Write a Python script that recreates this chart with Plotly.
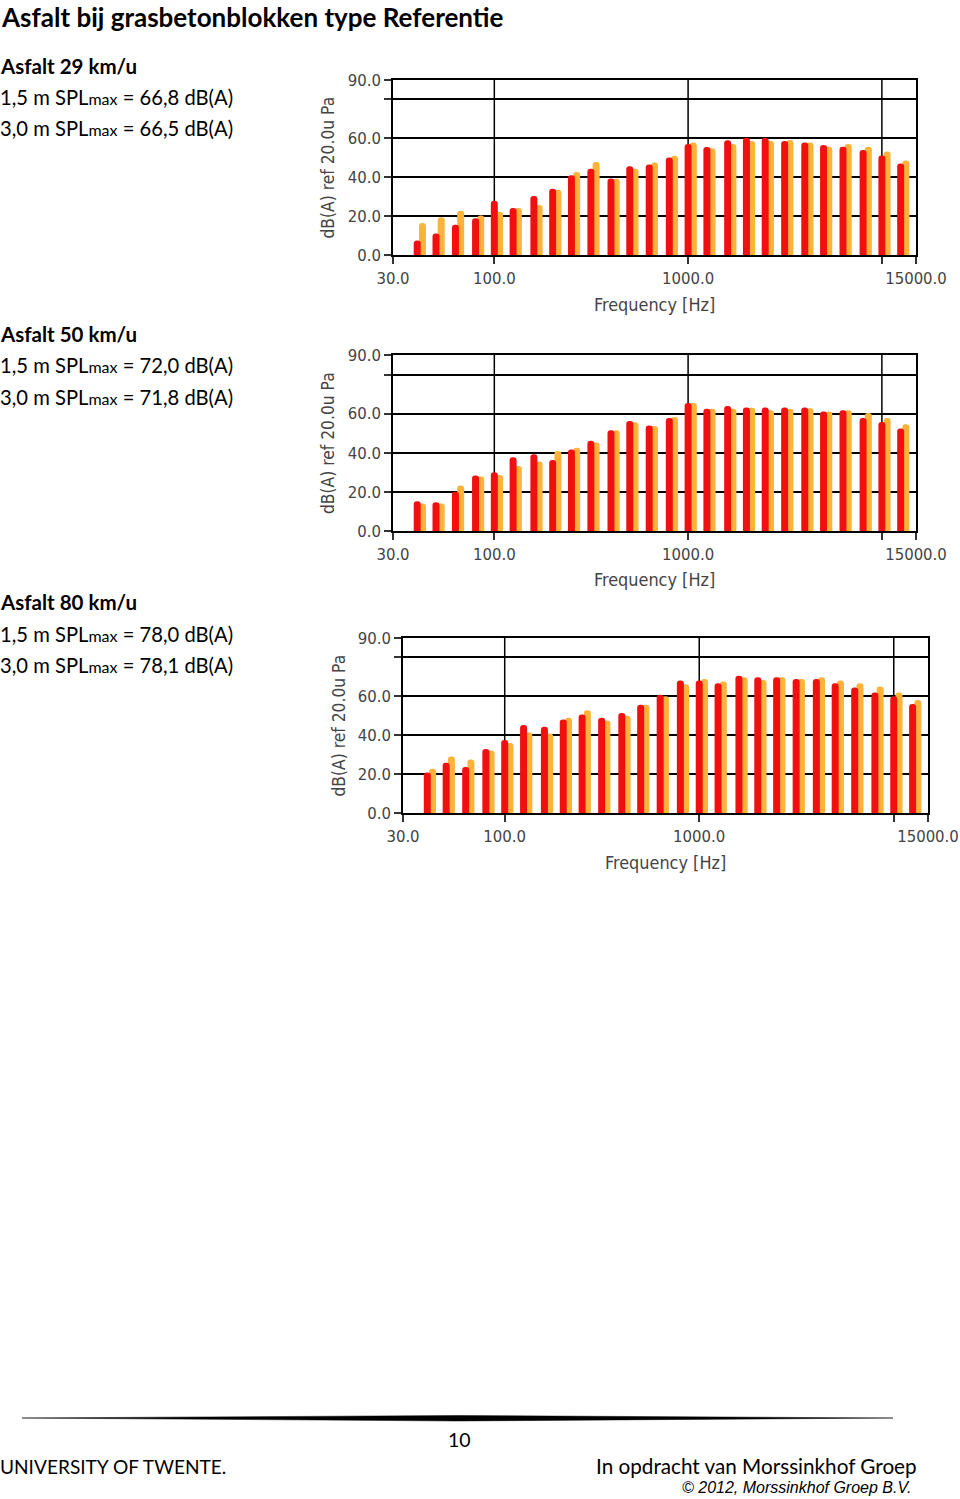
import numpy as np
import plotly.graph_objects as go

W, H = 960, 1499

freqs = [40, 50, 63, 80, 100, 125, 160, 200, 250, 315, 400, 500, 630, 800,
         1000, 1250, 1600, 2000, 2500, 3150, 4000, 5000, 6300, 8000, 10000, 12500]

red_29 = [7.5, 11, 15.5, 18.9, 27.9, 24.2, 30.4, 34.1, 41, 44.3, 39.4, 45.6, 46.5, 50.2,
          57.1, 55.6, 59, 60.3, 60.3, 58.6, 57.9, 56.6, 55.7, 54, 51.2, 47.1]
orange_29 = [16.4, 19.4, 22.8, 20.3, 22.3, 24.2, 25.7, 33.6, 42.7, 47.8, 39.2, 44.3, 47.6, 51,
             57.8, 54.9, 57.1, 58.6, 58.6, 59.1, 57.9, 55.7, 57.1, 55.7, 53.2, 48.6]

red_50 = [15.2, 14.7, 20.1, 28.4, 30.1, 37.7, 39.2, 36.3, 41.7, 46.1, 51.5, 56.3, 54, 57.8,
          65.4, 62.5, 63.9, 63.2, 63.2, 63.2, 63.2, 61.1, 61.7, 57.8, 55.7, 52.4]
orange_50 = [14.0, 14.0, 23.3, 27.9, 28.7, 33.3, 35.5, 40.9, 42.6, 45.3, 51.5, 55.6, 53.7, 58.3,
             65.5, 62.5, 62.5, 63, 61.7, 62.5, 62.8, 61.1, 61.7, 60.3, 57.8, 54.6]

red_80 = [20.8, 25.8, 23.6, 32.9, 37.5, 45.3, 44.3, 48.1, 50.7, 49, 51.4, 55.7, 60.8, 68.1,
          68.1, 66.7, 70.6, 69.8, 69.8, 68.9, 68.9, 66.7, 64.5, 62, 60, 56.1]
orange_80 = [22.8, 29.1, 27.5, 32.1, 36, 41.4, 40.9, 49, 52.9, 47.6, 50, 55.7, 60, 66.2,
             68.9, 67.6, 69.8, 68.4, 69.8, 68.9, 69.8, 68.1, 66.7, 65, 62, 58.1]

x_tick_vals = [30, 100, 1000, 10000, 15000]
x_tick_text = ["30.0", "100.0", "1000.0", "", "15000.0"]
y_tick_vals = [0, 20, 40, 60, 80, 90]
y_tick_text = ["0.0", "20.0", "40.0", "60.0", "", "90.0"]

headers = ["Asfalt 29 km/u", "Asfalt 50 km/u", "Asfalt 80 km/u"]
spl_15 = ["66,8", "72,0", "78,0"]
spl_30 = ["66,5", "71,8", "78,1"]

RED = "#F20F0F"
ORANGE = "#FCB33A"
AXFONT = "DejaVu Sans Condensed"
TXT = "Lato"

# panel pixel boxes (left, right, top, bottom)
boxes = [(393, 916, 80, 255), (393, 916, 355, 531), (403, 928, 638, 813)]
text_y = [(66, 97, 128), (334, 365, 397), (602, 634, 665)]

lx = np.log10(freqs)
red_w = 0.036
or_off = 0.027

def px(x):
    return x / W

def py(y):
    return 1 - y / H

fig = go.Figure()
annotations = []
series = [(red_29, orange_29), (red_50, orange_50), (red_80, orange_80)]

for i, ((rv, ov), (l, r, t, b)) in enumerate(zip(series, boxes)):
    n = i + 1
    xa = "x" if n == 1 else f"x{n}"
    ya = "y" if n == 1 else f"y{n}"
    fig.add_trace(go.Bar(x=lx, y=ov, xaxis=xa, yaxis=ya, width=red_w,
                         offset=-red_w / 2 + or_off, marker_color=ORANGE,
                         marker_line_width=0, marker_cornerradius=3, showlegend=False))
    fig.add_trace(go.Bar(x=lx, y=rv, xaxis=xa, yaxis=ya, width=red_w,
                         offset=-red_w / 2, marker_color=RED,
                         marker_line_width=0, marker_cornerradius=3, showlegend=False))
    xkey = "xaxis" if n == 1 else f"xaxis{n}"
    ykey = "yaxis" if n == 1 else f"yaxis{n}"
    fig.update_layout(**{
        xkey: dict(domain=[px(l), px(r)], anchor=ya, range=[np.log10(30), np.log10(15000)],
                   tickvals=list(np.log10(x_tick_vals)), ticktext=x_tick_text, automargin=False,
                   showgrid=False, showline=True, mirror=True, linecolor="black", linewidth=1.5,
                   ticks="outside", ticklen=7, tickwidth=1.5, tickcolor="#333",
                   tickfont=dict(family=AXFONT, size=16.6, color="#444"), zeroline=False),
        ykey: dict(domain=[py(b), py(t)], anchor=xa, range=[0, 90], automargin=False,
                   tickvals=y_tick_vals, ticktext=y_tick_text,
                   showgrid=True, gridcolor="black", gridwidth=1.5,
                   showline=True, mirror=True, linecolor="black", linewidth=1.5,
                   ticks="outside", ticklen=7, tickwidth=1.5, tickcolor="#333",
                   tickfont=dict(family=AXFONT, size=16.6, color="#444"), zeroline=False),
    })
    # vertical grid lines at decades (layout shapes tied to the x axis)
    for gv in [100, 1000, 10000]:
        fig.add_shape(type="line", xref=xa, yref=f"{ya} domain", x0=np.log10(gv), x1=np.log10(gv),
                      y0=0, y1=1, line=dict(color="black", width=1.5), layer="below")
    # axis titles
    annotations.append(dict(x=px(l - 65), y=py((t + b) / 2), xref="paper", yref="paper",
                            text="dB(A) ref 20.0u Pa", textangle=-90, showarrow=False,
                            font=dict(family=AXFONT, size=17.3, color="#444"),
                            xanchor="center", yanchor="middle"))
    annotations.append(dict(x=px((l + r) / 2), y=py(b + 49), xref="paper", yref="paper",
                            text="Frequency [Hz]", showarrow=False,
                            font=dict(family=AXFONT, size=17.9, color="#444"),
                            xanchor="center", yanchor="middle"))
    # left texts
    y0, y1, y2 = text_y[i]
    annotations.append(dict(x=px(-2), y=py(y0), xref="paper", yref="paper", text=f"<b>{headers[i]}</b>",
                            showarrow=False, xanchor="left", yanchor="middle",
                            font=dict(family=TXT, size=20.5, color="black")))
    sm = "<span style='font-size:16px'>max</span>"
    annotations.append(dict(x=px(-2), y=py(y1), xref="paper", yref="paper",
                            text=f"1,5 m SPL{sm} = {spl_15[i]} dB(A)",
                            showarrow=False, xanchor="left", yanchor="middle",
                            font=dict(family=TXT, size=20.2, color="black")))
    annotations.append(dict(x=px(-2), y=py(y2), xref="paper", yref="paper",
                            text=f"3,0 m SPL{sm} = {spl_30[i]} dB(A)",
                            showarrow=False, xanchor="left", yanchor="middle",
                            font=dict(family=TXT, size=20.2, color="black")))

annotations.append(dict(x=0, y=py(17), xref="paper", yref="paper",
                        text="<b>Asfalt bij grasbetonblokken type Referentie</b>",
                        showarrow=False, xanchor="left", yanchor="middle", borderpad=0,
                        font=dict(family=TXT, size=26, color="black")))
annotations.append(dict(x=px(459), y=py(1439), xref="paper", yref="paper", text="10",
                        showarrow=False, xanchor="center", yanchor="middle",
                        font=dict(family=TXT, size=19.5, color="black")))
annotations.append(dict(x=px(-2), y=py(1466), xref="paper", yref="paper", text="UNIVERSITY OF TWENTE.",
                        showarrow=False, xanchor="left", yanchor="middle",
                        font=dict(family=TXT, size=19.1, color="black")))
annotations.append(dict(x=px(919), y=py(1466), xref="paper", yref="paper",
                        text="In opdracht van Morssinkhof Groep",
                        showarrow=False, xanchor="right", yanchor="middle",
                        font=dict(family=TXT, size=20.7, color="black")))
annotations.append(dict(x=px(913), y=py(1487), xref="paper", yref="paper",
                        text="<i>© 2012, Morssinkhof Groep B.V.</i>",
                        showarrow=False, xanchor="right", yanchor="middle",
                        font=dict(family="Liberation Sans Narrow, Liberation Sans", size=16, color="black")))

# tapered footer rule
fig.add_shape(type="path", xref="paper", yref="paper",
              path=f"M {px(22)},{py(1418)} L {px(458)},{py(1415.5)} L {px(893)},{py(1418)} "
                   f"L {px(458)},{py(1421)} Z",
              fillcolor="black", line=dict(width=0.5, color="black"))

fig.update_layout(width=W, height=H, margin=dict(l=0, r=0, t=0, b=0, pad=0),
                  paper_bgcolor="white", plot_bgcolor="white",
                  barmode="overlay", annotations=annotations, showlegend=False)

fig.write_html("out.html", config={"displayModeBar": False},
               post_script="document.body.style.margin='0';document.body.style.padding='0';"
                           "document.documentElement.style.overflow='hidden';")
